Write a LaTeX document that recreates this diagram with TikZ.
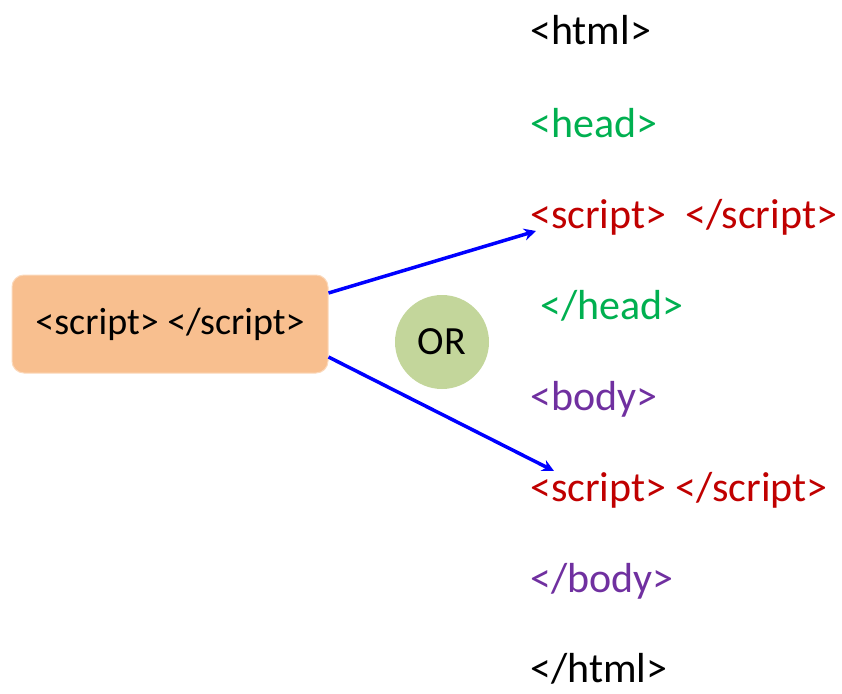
\documentclass[tikz,border=0pt]{standalone}
\usepackage{fontspec}
\setmainfont{Carlito}
\usetikzlibrary{arrows.meta,calc}
\definecolor{tagblack}{HTML}{000000}
\definecolor{taggreen}{HTML}{00B050}
\definecolor{tagred}{HTML}{C00000}
\definecolor{tagpurple}{HTML}{7030A0}
\definecolor{boxorange}{HTML}{F8BF8F}
\definecolor{orgreen}{HTML}{C3D69B}
\definecolor{arrowblue}{HTML}{0000FF}
\tikzset{
  tag/.style={anchor=base west, inner sep=0pt, font=\fontsize{42}{46}\selectfont},
  srcbox/.style={fill=boxorange, draw=boxorange!60, line width=1pt, rounded corners=12pt,
    minimum width=316pt, minimum height=98pt, inner sep=0pt, font=\fontsize{38}{42}\selectfont},
  orcircle/.style={circle, fill=orgreen, minimum size=94pt, inner sep=0pt, font=\fontsize{40}{44}\selectfont},
  link/.style={draw=arrowblue, line width=3.5pt, -{Stealth[length=12pt,width=12pt]}}
}
\begin{document}
\begin{tikzpicture}[x=1pt,y=-1pt]
\useasboundingbox (0,0) rectangle (842,693);
\node[tag, text=tagblack] (h1) at (530,45) {<html>};
\node[tag, text=taggreen] (hd1) at (530,137) {<head>};
\node[tag, text=tagred] (s1) at (530,228) {<script>\ \ </script>};
\node[tag, text=taggreen] (hd2) at (540,319) {</head>};
\node[tag, text=tagpurple] (b1) at (530,410) {<body>};
\node[tag, text=tagred] (s2) at (530,501) {<script> </script>};
\node[tag, text=tagpurple] (b2) at (530,592) {</body>};
\node[tag, text=tagblack] (h2) at (530,682) {</html>};
\node[srcbox] (box) at (170,324) {<script> </script>};
\node[orcircle] (or) at (442,342) {OR};
\coordinate (e1) at (536,231);
\coordinate (e2) at (554,471);
\draw[link] ([yshift=31pt]box.east) -- (e1);
\draw[link] ([yshift=-33pt]box.east) -- (e2);
\end{tikzpicture}
\end{document}
